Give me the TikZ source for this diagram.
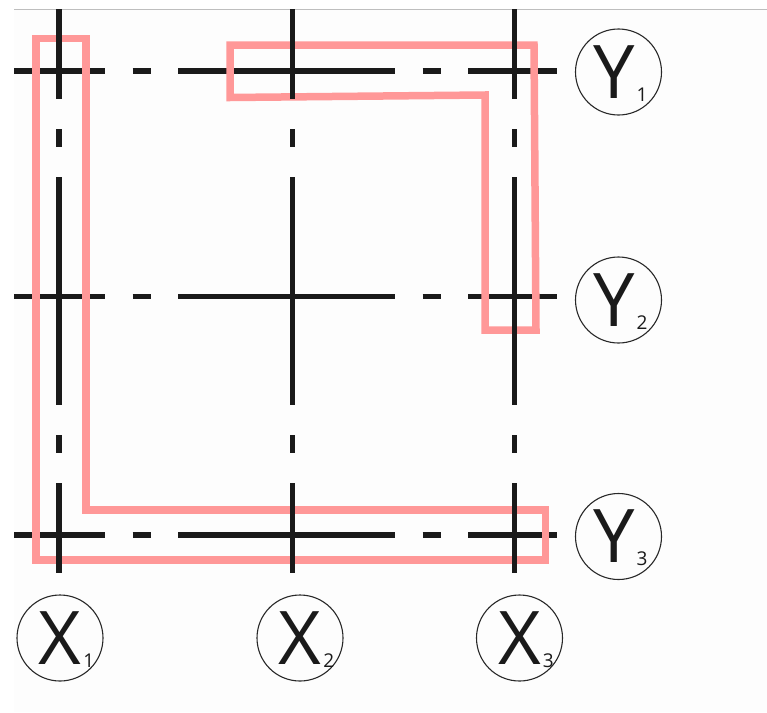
\documentclass[tikz,border=0pt]{standalone}
\usepackage{fontspec}
\setmainfont{Open Sans}
\definecolor{ink}{RGB}{26,26,26}
\definecolor{zonepink}{RGB}{255,152,152}
\definecolor{circ}{RGB}{40,40,40}
\definecolor{framegrey}{RGB}{190,190,190}
\definecolor{paper}{RGB}{253,253,253}
\newcommand{\axsub}[1]{\rlap{\smash{\kern2pt\raisebox{-3pt}{\fontsize{19}{19}\selectfont #1}}}}
\begin{document}
\begin{tikzpicture}[x=1pt,y=-1pt,
  gridline/.style={line width=5.5pt, draw=ink, line cap=butt},
  hline/.style={gridline, dash pattern=on 217pt off 27.5pt on 18pt off 27.5pt, dash phase=126pt},
  vline/.style={gridline, dash pattern=on 228pt off 30pt on 18pt off 30pt, dash phase=138pt},
  zone/.style={draw=zonepink, line width=7.5pt, line join=miter},
  axis/.style={circle, draw=circ, line width=1.1pt, minimum size=86pt, inner sep=0pt,
    font=\fontsize{74}{74}\selectfont, text=ink},
  framestyle/.style={draw=framegrey, line width=1pt}]
\useasboundingbox (0,0) rectangle (767,712);
\fill[paper] (14,9) rectangle (767,712);
\coordinate (fl) at (14,9);
\coordinate (fr) at (767,9);
\draw[framestyle] (fl) -- (fr);
% grid ends
\coordinate (x1t) at (59,9);    \coordinate (x1b) at (59,573);
\coordinate (x2t) at (292.5,9); \coordinate (x2b) at (292.5,573);
\coordinate (x3t) at (514.5,9); \coordinate (x3b) at (514.5,573);
\coordinate (y1l) at (14,71);    \coordinate (y1r) at (557,71);
\coordinate (y2l) at (14,296.5); \coordinate (y2r) at (557,296.5);
\coordinate (y3l) at (14,535);   \coordinate (y3r) at (557,535);
% horizontal grid lines
\draw[hline] (y1l) -- (y1r);
\draw[hline] (y2l) -- (y2r);
\draw[hline] (y3l) -- (y3r);
% highlighted zones
\draw[zone] (36,38.5) -- (86,38.5) -- (86,510) -- (545.5,510) -- (545.5,560) -- (36,560) -- cycle;
\draw[zone] (230,45) -- (534,45) -- (536,330) -- (485,330) -- (485,95) -- (230,97.5) -- cycle;
% vertical grid lines
\draw[vline] (x1t) -- (x1b);
\draw[vline] (x2t) -- (x2b);
\draw[vline] (x3t) -- (x3b);
% axis labels
\node[axis, yshift=2pt] (Y1) at (618.5,74) {\kern-9pt Y\axsub{1}};
\node[axis, yshift=2pt] (Y2) at (618.5,302) {\kern-9pt Y\axsub{2}};
\node[axis, yshift=2pt] (Y3) at (618.5,538.5) {\kern-9pt Y\axsub{3}};
\node[axis, yshift=2pt] (X1) at (60,640) {X\axsub{1}};
\node[axis, yshift=2pt] (X2) at (300,640) {X\axsub{2}};
\node[axis, yshift=2pt] (X3) at (519.5,640) {X\axsub{3}};
\end{tikzpicture}
\end{document}
